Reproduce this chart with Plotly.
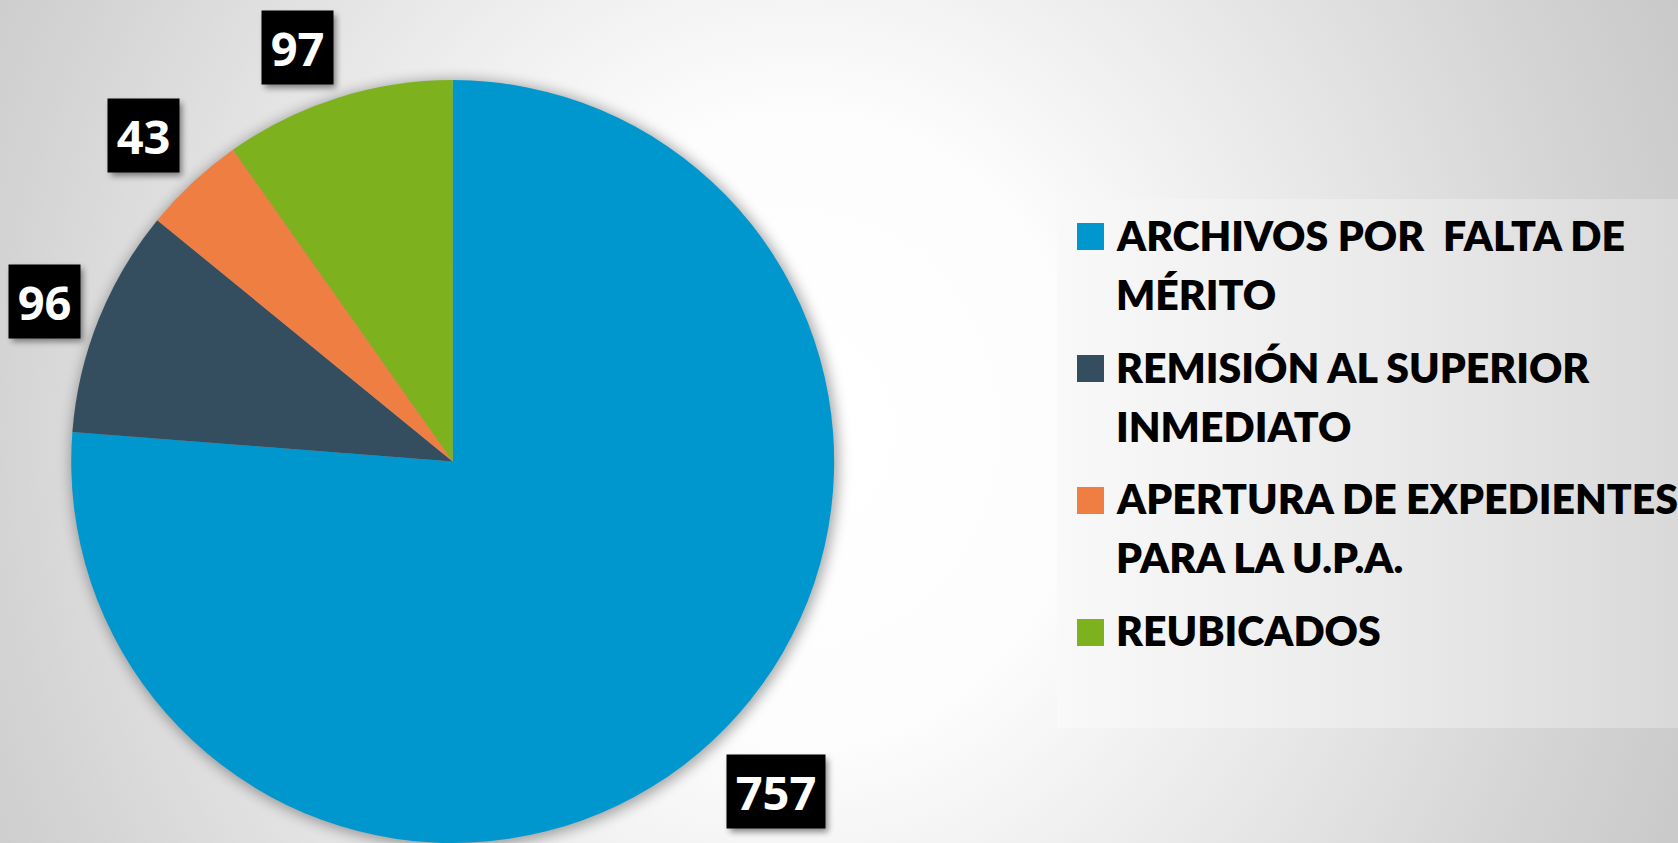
import base64
import plotly.graph_objects as go

# ---------------- data ----------------
categories = [
    "ARCHIVOS POR  FALTA DE<br>MÉRITO",
    "REMISIÓN AL SUPERIOR<br>INMEDIATO",
    "APERTURA DE EXPEDIENTES<br>PARA LA U.P.A.",
    "REUBICADOS",
]
values = [757, 96, 43, 97]
colors = ["#0097ce", "#344e60", "#ef7e42", "#7db11e"]

# ---------------- layout constants ----------------
W, H = 1678, 843
dom_x = [0.04243, 0.49714]
dom_y = [0.0, 0.905]

# data label boxes (pixel centres, sizes)
label_centers = [(776, 791.5), (44.5, 301), (143.5, 135.5), (297.5, 47.5)]
label_heights = 73
label_digit_w = 71  # width for two digits; three digits wider
label_font = "Open Sans"
label_size = 47

# legend geometry (pixels)
leg_box = (1057, 199, 1678, 728)
leg_sq_x = (1077, 1104)
leg_first_top = 223
leg_sq_h = 27
leg_pitch = 131.7
leg_text_x = 1115
leg_line1_mid = 235.5
leg_line_gap = 59
leg_font = "Lato"
leg_size = 41
leg_weight = 800

# pie geometry in pixels (derived from domain)
pie_r = min((dom_x[1] - dom_x[0]) * W, (dom_y[1] - dom_y[0]) * H) / 2
pie_cx = (dom_x[0] + dom_x[1]) / 2 * W
pie_cy = H - (dom_y[0] + dom_y[1]) / 2 * H

def box_w(v):
    n = len(str(v))
    return label_digit_w + (n - 2) * 27

# ---------------- background svg ----------------
shadow_rects = ""
for v, (cx, cy) in zip(values, label_centers):
    bw = box_w(v)
    shadow_rects += (f'<rect x="{cx - bw/2 + 3}" y="{cy - label_heights/2 + 4}" width="{bw}" '
                     f'height="{label_heights}" fill="#000" opacity="0.45" filter="url(#b2)"/>')

lx0, ly0, lx1, ly1 = leg_box
svg = f'''<svg xmlns="http://www.w3.org/2000/svg" width="{W}" height="{H}" viewBox="0 0 {W} {H}">
<defs>
<radialGradient id="bg" gradientUnits="userSpaceOnUse" cx="800" cy="430" r="1000"
 gradientTransform="translate(800 430) scale(1 1.1) translate(-800 -430)">
<stop offset="0" stop-color="#ffffff"/>
<stop offset="0.28" stop-color="#fdfdfd"/>
<stop offset="0.55" stop-color="#e8e8e8"/>
<stop offset="0.8" stop-color="#d4d4d4"/>
<stop offset="1" stop-color="#c6c6c6"/>
</radialGradient>
<linearGradient id="lg" x1="0" y1="0" x2="1" y2="0">
<stop offset="0" stop-color="#f9f9f9"/>
<stop offset="0.5" stop-color="#ebebeb"/>
<stop offset="1" stop-color="#d9d9d9"/>
</linearGradient>
<filter id="b1" x="-20%" y="-20%" width="140%" height="140%"><feGaussianBlur stdDeviation="7"/></filter>
<filter id="b2" x="-50%" y="-50%" width="200%" height="200%"><feGaussianBlur stdDeviation="3"/></filter>
</defs>
<rect x="0" y="0" width="{W}" height="{H}" fill="url(#bg)"/>
<circle cx="{pie_cx + 2}" cy="{pie_cy + 2}" r="{pie_r + 2}" fill="#000" opacity="0.35" filter="url(#b1)"/>
<rect x="{lx0}" y="{ly0}" width="{lx1 - lx0}" height="{ly1 - ly0}" fill="url(#lg)"/>
{shadow_rects}
</svg>'''
src = "data:image/svg+xml;base64," + base64.b64encode(svg.encode("utf-8")).decode("ascii")

# ---------------- figure ----------------
fig = go.Figure()
fig.add_trace(go.Pie(
    labels=[c.replace("<br>", " ") for c in categories],
    values=values,
    marker=dict(colors=colors, line=dict(width=0)),
    sort=False,
    direction="clockwise",
    rotation=0,
    textinfo="none",
    domain=dict(x=dom_x, y=dom_y),
    showlegend=False,
    hoverinfo="label+value+percent",
))

annotations = []
shapes = []

# value labels
for v, (cx, cy) in zip(values, label_centers):
    annotations.append(dict(
        x=cx / W, y=1 - cy / H, xref="paper", yref="paper",
        xanchor="center", yanchor="middle",
        text=str(v), showarrow=False,
        width=box_w(v), height=label_heights, borderpad=0,
        bgcolor="#000000",
        font=dict(family=label_font, size=label_size, color="#ffffff", weight="bold"),
    ))

# custom legend
for k, (cat, col) in enumerate(zip(categories, colors)):
    top = leg_first_top + k * 132
    shapes.append(dict(
        type="rect", xref="paper", yref="paper",
        x0=leg_sq_x[0] / W, x1=leg_sq_x[1] / W,
        y0=1 - top / H, y1=1 - (top + leg_sq_h) / H,
        fillcolor=col, line=dict(width=0),
    ))
    for j, line in enumerate(cat.split("<br>")):
        mid = leg_line1_mid + k * leg_pitch + j * leg_line_gap
        annotations.append(dict(
            x=leg_text_x / W, y=1 - mid / H, xref="paper", yref="paper",
            xanchor="left", yanchor="middle",
            text=line, showarrow=False, borderpad=0,
            font=dict(family=leg_font, size=leg_size, color="#000000", weight=leg_weight),
        ))

fig.update_layout(
    width=W, height=H,
    margin=dict(l=0, r=0, t=0, b=0),
    paper_bgcolor="#ffffff",
    plot_bgcolor="rgba(0,0,0,0)",
    images=[dict(source=src, xref="paper", yref="paper", x=0, y=1,
                 sizex=1, sizey=1, sizing="stretch", xanchor="left", yanchor="top",
                 layer="below")],
    annotations=annotations,
    shapes=shapes,
)

fig.write_html(
    "out.html",
    config={"displayModeBar": False},
    post_script="document.body.style.margin='0';document.body.style.overflow='hidden';",
)
